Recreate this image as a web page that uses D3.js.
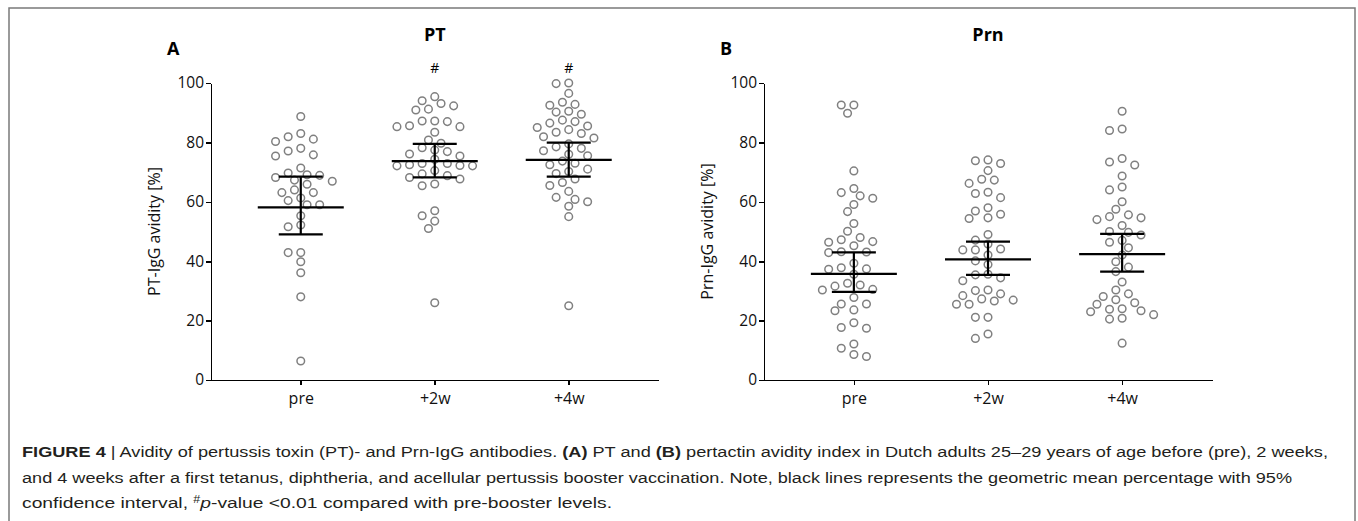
<!DOCTYPE html>
<html>
<head>
<meta charset="utf-8">
<script src="https://cdn.jsdelivr.net/npm/d3@7"></script>
<style>
body{margin:0;background:#fff;}
svg{display:block;}
.axis path,.axis line{stroke:#000;stroke-width:1.6;shape-rendering:crispEdges;}
.axis text{font-family:'Open Sans',sans-serif;font-size:15.5px;fill:#111;}
.dot{fill:#fff;stroke:#808080;stroke-width:1.5;}
.bar{stroke:#000;stroke-width:2.2;}
.cap{font-family:'Liberation Sans Narrow','Liberation Sans',Arial,sans-serif;font-size:15.5px;fill:#231f20;}
</style>
</head>
<body>
<svg id="fig" width="1358" height="521"></svg>
<script>
// values (avidity %)
const groups = ['pre', '+2w', '+4w'];
const yTicks = [0, 20, 40, 60, 80, 100];
const ptMarks = ['', '#', '#'];

const ptPre = [88.7, 83.0, 81.1, 80.3, 81.9, 78.0, 77.1, 75.4, 75.8, 69.7, 67.3, 68.9, 65.9, 68.2, 69.1,
  71.4, 66.9, 64.0, 63.1, 63.1, 61.3, 59.0, 59.0, 60.4, 55.3, 51.6, 52.2, 42.9, 42.9, 39.8, 36.1, 28.0, 6.4];
const ptW2 = [94.0, 92.3, 90.9, 91.2, 93.1, 95.4, 87.2, 87.0, 83.4, 85.3, 85.3, 85.6, 87.2, 80.8, 79.7,
  78.2, 77.4, 76.1, 75.4, 76.9, 72.9, 72.5, 72.1, 70.5, 72.1, 72.2, 72.9, 74.3, 69.4, 68.2, 66.0, 65.4,
  67.7, 68.8, 55.3, 53.5, 57.0, 51.0, 26.0];
const ptW4 = [100, 99.8, 96.5, 93.5, 92.8, 92.5, 90.5, 90.2, 89.5, 87.5, 87.0, 86.5, 85.5, 85.0, 84.3,
  83.4, 83.0, 81.9, 81.5, 79.5, 78.5, 78.0, 77.2, 76.0, 75.5, 73.7, 73.0, 72.5, 71.0, 70.2, 69.5, 67.7,
  66.5, 65.5, 63.5, 61.5, 60.8, 60.0, 58.5, 55.0, 25.0];
const ptMean = [58.1, 73.7, 74.1];
const ptLow = [49.0, 68.2, 68.5];
const ptHigh = [68.5, 79.5, 79.9];

const prnPre = [92.6, 89.8, 92.6, 70.4, 63.1, 61.2, 64.5, 62.0, 59.1, 56.7, 52.7, 50.1, 48.0, 47.2, 46.4,
  46.6, 45.2, 43.2, 42.9, 43.1, 39.3, 37.4, 35.6, 37.3, 37.8, 31.6, 30.3, 32.6, 30.5, 32.0, 27.8, 25.6,
  23.3, 23.6, 25.6, 17.7, 17.4, 19.3, 10.7, 12.1, 7.9, 8.6];
const prnW2 = [73.8, 72.9, 74.1, 70.5, 67.6, 66.2, 67.3, 62.8, 61.4, 63.2, 58.0, 55.8, 54.4, 54.6, 56.9,
  47.1, 44.1, 49.0, 43.8, 42.1, 43.8, 45.8, 40.1, 38.9, 35.4, 34.4, 33.4, 35.6, 29.0, 27.3, 30.3, 26.6,
  30.1, 25.5, 25.5, 28.4, 26.9, 21.1, 21.1, 14.0, 15.5];
const prnW4 = [90.5, 84.5, 84.0, 74.6, 73.4, 72.4, 68.7, 65.0, 64.0, 60.0, 57.5, 55.6, 55.0, 54.6, 54.0,
  52.0, 50.0, 49.7, 48.8, 47.0, 46.4, 44.5, 42.1, 39.8, 38.0, 36.5, 33.0, 30.3, 29.0, 28.1, 27.0, 26.0,
  25.5, 24.0, 23.8, 23.3, 23.0, 22.0, 20.8, 20.5, 12.4];
const prnMean = [35.7, 40.6, 42.4];
const prnLow = [29.7, 35.4, 36.5];
const prnHigh = [43.0, 46.6, 49.2];

const svg = d3.select('#fig');
const plotTop = 83, plotBottom = 380;

// frame round the whole figure
svg.append('rect').attr('x', 9).attr('y', 8).attr('width', 1346).attr('height', 540)
  .attr('fill', 'none').attr('stroke', '#7a7a7a').attr('stroke-width', 1.5);

// simple Prism-like swarm: place each point at the nearest free horizontal slot
function swarm(vals, y, step, minD){
  const pts = vals.map(v => ({v: v, py: y(v), dx: 0})).sort((a, b) => a.py - b.py);
  const placed = [];
  pts.forEach(p => {
    for(let k = 0; k < 60; k++){
      const off = k === 0 ? 0 : (k % 2 ? -1 : 1) * Math.ceil(k / 2) * step;
      const hit = placed.some(q => Math.hypot(q.dx - off, q.py - p.py) < minD);
      if(!hit){ p.dx = off; break; }
    }
    placed.push(p);
  });
  return pts;
}

function drawPanel(o){
  const x = d3.scalePoint().domain(groups).range([o.left, o.right]).padding(0.67);
  const y = d3.scaleLinear().domain([0, 100]).range([plotBottom, plotTop]);
  const g = svg.append('g');

  g.append('g').attr('class', 'axis')
    .attr('transform', `translate(0,${plotBottom})`)
    .call(d3.axisBottom(x).tickSize(5).tickSizeOuter(0).tickPadding(5))
    .selectAll('text').attr('dy', '0.9em').style('font-size', '16px');

  g.append('g').attr('class', 'axis')
    .attr('transform', `translate(${o.left},0)`)
    .call(d3.axisLeft(y).tickValues(yTicks).tickSize(5).tickSizeOuter(0).tickPadding(2));

  // axis title
  g.append('text')
    .attr('transform', `translate(${o.left - 51},${(plotTop + plotBottom) / 2}) rotate(-90)`)
    .attr('text-anchor', 'middle')
    .style('font-family', "'Open Sans',sans-serif").style('font-size', '16px').style('fill', '#111')
    .text(o.yLabel);

  // panel letter and title
  g.append('text').attr('x', o.left - 44).attr('y', 55)
    .style('font-family', "'Open Sans',sans-serif").style('font-weight', 'bold').style('font-size', '18px')
    .text(o.letter);
  g.append('text').attr('x', x('+2w')).attr('y', 41).attr('text-anchor', 'middle')
    .style('font-family', "'Open Sans',sans-serif").style('font-weight', 'bold').style('font-size', '18px')
    .text(o.title);

  groups.forEach((grp, i) => {
    const cx = x(grp);
    const pts = swarm(o.series[i], y, 6.3, 9.2);
    g.selectAll(null).data(pts).enter().append('circle')
      .attr('class', 'dot')
      .attr('cx', d => cx + d.dx)
      .attr('cy', d => d.py)
      .attr('r', 3.8);

    // geometric mean with 95% CI
    g.append('line').attr('class', 'bar')
      .attr('x1', cx - 43).attr('x2', cx + 43)
      .attr('y1', y(o.mean[i])).attr('y2', y(o.mean[i]));
    g.append('line').attr('class', 'bar')
      .attr('x1', cx).attr('x2', cx)
      .attr('y1', y(o.low[i])).attr('y2', y(o.high[i]));
    [o.low[i], o.high[i]].forEach(v => {
      g.append('line').attr('class', 'bar')
        .attr('x1', cx - 22).attr('x2', cx + 22)
        .attr('y1', y(v)).attr('y2', y(v));
    });

    if(o.marks && o.marks[i]){
      g.append('text').attr('x', cx).attr('y', 73).attr('text-anchor', 'middle')
        .style('font-family', "'Open Sans',sans-serif").style('font-size', '14px')
        .text(o.marks[i]);
    }
  });
}

drawPanel({left: 211, right: 658.5, letter: 'A', title: 'PT', yLabel: 'PT-IgG avidity [%]',
  series: [ptPre, ptW2, ptW4], mean: ptMean, low: ptLow, high: ptHigh, marks: ptMarks});
drawPanel({left: 764, right: 1212, letter: 'B', title: 'Prn', yLabel: 'Prn-IgG avidity [%]',
  series: [prnPre, prnW2, prnW4], mean: prnMean, low: prnLow, high: prnHigh});

// caption
const cap = svg.append('g');
const l1 = cap.append('text').attr('class', 'cap').attr('x', 22).attr('y', 457)
  .attr('textLength', 1306).attr('lengthAdjust', 'spacingAndGlyphs');
l1.append('tspan').style('font-weight', 'bold').text('FIGURE 4');
l1.append('tspan').text(' | Avidity of pertussis toxin (PT)- and Prn-IgG antibodies. ');
l1.append('tspan').style('font-weight', 'bold').text('(A)');
l1.append('tspan').text(' PT and ');
l1.append('tspan').style('font-weight', 'bold').text('(B)');
l1.append('tspan').text(' pertactin avidity index in Dutch adults 25\u201329 years of age before (pre), 2 weeks,');

cap.append('text').attr('class', 'cap').attr('x', 22).attr('y', 483)
  .attr('textLength', 1270).attr('lengthAdjust', 'spacingAndGlyphs')
  .text('and 4 weeks after a first tetanus, diphtheria, and acellular pertussis booster vaccination. Note, black lines represents the geometric mean percentage with 95%');

const l3 = cap.append('text').attr('class', 'cap').attr('x', 22).attr('y', 508)
  .attr('textLength', 590).attr('lengthAdjust', 'spacingAndGlyphs');
l3.append('tspan').text('confidence interval, ');
l3.append('tspan').attr('dy', -5).style('font-size', '10px').text('#');
l3.append('tspan').attr('dy', 5).style('font-style', 'italic').text('p');
l3.append('tspan').text('-value <0.01 compared with pre-booster levels.');
</script>
</body>
</html>
